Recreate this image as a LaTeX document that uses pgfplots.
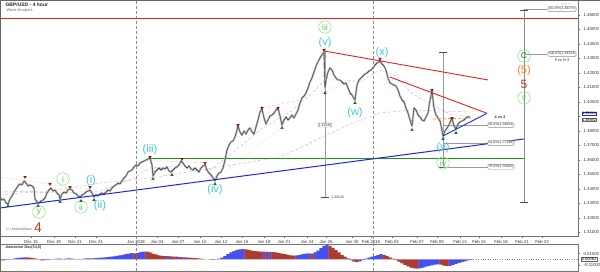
\documentclass[border=0pt]{standalone}
\usepackage{fontspec}
\setmainfont{Liberation Sans}
\newfontfamily\sym{DejaVu Sans}
\usepackage{pgfplots}
\usepackage{pgfplotstable}
\pgfplotsset{compat=1.18}
\definecolor{wcyan}{RGB}{60,200,215}
\definecolor{wgreen}{RGB}{70,215,70}
\definecolor{wcircle}{RGB}{140,230,140}
\definecolor{wdkgreen}{RGB}{30,130,30}
\definecolor{worange}{RGB}{255,130,30}
\definecolor{wbrown}{RGB}{185,65,25}
\definecolor{wred}{RGB}{235,30,30}
\definecolor{wblue}{RGB}{30,40,220}
\definecolor{wgline}{RGB}{30,150,30}
\definecolor{oblue}{RGB}{70,80,240}
\definecolor{ored}{RGB}{170,60,50}
\definecolor{mred}{RGB}{140,20,20}
\definecolor{mgreen}{RGB}{20,110,20}
\pgfplotstableread{
x y
0 1.3345
2 1.3324
4 1.3331
6 1.3304
8 1.3297
10 1.3331
12 1.3352
14 1.3379
16 1.3400
18 1.3421
20 1.3435
22 1.3428
24 1.3455
26 1.3441
28 1.3421
30 1.3428
32 1.3421
34 1.3407
35 1.3331
37 1.3310
39 1.3304
41 1.3317
43 1.3324
45 1.3338
47 1.3372
49 1.3393
51 1.3407
53 1.3386
55 1.3393
57 1.3372
59 1.3359
60 1.3331
62 1.3366
64 1.3379
66 1.3372
68 1.3393
70 1.3400
72 1.3393
74 1.3372
76 1.3366
78 1.3352
80 1.3345
82 1.3359
84 1.3366
86 1.3379
88 1.3386
90 1.3393
92 1.3372
94 1.3345
96 1.3359
98 1.3352
100 1.3366
102 1.3372
104 1.3366
106 1.3379
108 1.3393
110 1.3386
112 1.3407
114 1.3421
116 1.3428
118 1.3441
120 1.3435
122 1.3455
124 1.3476
126 1.3490
128 1.3517
130 1.3524
132 1.3531
134 1.3552
136 1.3566
138 1.3559
140 1.3579
142 1.3586
144 1.3593
146 1.3600
148 1.3607
150 1.3614
152 1.3566
153 1.3490
155 1.3517
157 1.3531
159 1.3545
161 1.3531
163 1.3545
165 1.3538
167 1.3552
169 1.3524
171 1.3517
173 1.3531
175 1.3545
177 1.3552
179 1.3566
181 1.3593
183 1.3579
185 1.3559
187 1.3545
189 1.3559
191 1.3538
193 1.3531
195 1.3545
197 1.3531
199 1.3517
201 1.3545
203 1.3559
205 1.3566
207 1.3531
209 1.3510
211 1.3497
213 1.3476
215 1.3455
217 1.3490
219 1.3510
221 1.3517
223 1.3545
225 1.3600
227 1.3669
229 1.3704
231 1.3724
233 1.3731
235 1.3759
237 1.3807
238 1.3835
240 1.3793
242 1.3772
244 1.3800
246 1.3779
248 1.3807
250 1.3821
252 1.3793
254 1.3779
256 1.3828
258 1.3876
260 1.3931
262 1.3952
264 1.3890
266 1.3848
268 1.3876
270 1.3904
272 1.3910
274 1.3924
276 1.3945
278 1.3959
280 1.3904
282 1.3841
284 1.3876
286 1.3897
288 1.3876
290 1.3890
292 1.3910
294 1.3890
296 1.3917
298 1.3945
300 1.3993
302 1.4028
304 1.4041
306 1.4062
308 1.4097
310 1.4138
312 1.4166
314 1.4207
316 1.4248
318 1.4276
320 1.4304
322 1.4324
324 1.4345
325 1.4097
326 1.4152
328 1.4207
330 1.4235
332 1.4221
334 1.4186
336 1.4166
338 1.4152
340 1.4152
342 1.4138
344 1.4124
346 1.4131
348 1.4097
350 1.4062
352 1.4048
354 1.4021
355 1.4014
357 1.4117
359 1.4152
361 1.4166
363 1.4179
365 1.4193
367 1.4200
369 1.4214
371 1.4221
373 1.4235
375 1.4255
377 1.4269
379 1.4276
380 1.4283
382 1.4262
384 1.4248
386 1.4221
388 1.4166
390 1.4131
392 1.4124
394 1.4117
396 1.4110
398 1.4083
400 1.4041
402 1.4014
404 1.4000
406 1.3959
408 1.3924
410 1.3876
412 1.3835
414 1.3959
416 1.3945
418 1.3910
420 1.3897
422 1.3876
424 1.3869
426 1.3897
428 1.3924
430 1.4014
432 1.4076
434 1.3959
436 1.3910
438 1.3890
440 1.3869
442 1.3807
443 1.3766
445 1.3800
447 1.3821
449 1.3841
451 1.3876
452 1.3883
454 1.3835
456 1.3814
458 1.3848
460 1.3862
462 1.3869
464 1.3876
466 1.3890
468 1.3897
470 1.3897
}\price
\pgfplotstableread{
x y
25 1.3483
50 1.3435
70 1.3414
90 1.3414
150 1.3621
182 1.3607
205 1.3579
238 1.3841
262 1.3959
278 1.3959
324 1.4359
380 1.4297
432 1.4083
452 1.3890
}\highs
\pgfplotstableread{
x y
8 1.3283
38 1.3283
60 1.3310
81 1.3317
94 1.3324
153 1.3469
172 1.3497
215 1.3434
282 1.3821
325 1.4062
355 1.3993
412 1.3807
443 1.3745
456 1.3786
}\lows
\pgfplotstableread{
x y
6 -0.0010
9 -0.0005
12 0.0005
15 0.0015
18 0.0025
21 0.0030
24 0.0035
45 -0.0015
48 -0.0010
51 -0.0005
54 0.0005
57 0.0010
66 0.0010
69 0.0015
81 0.0005
84 0.0010
87 0.0015
93 0.0015
96 0.0020
99 0.0025
102 0.0030
105 0.0035
108 0.0040
111 0.0045
114 0.0050
117 0.0060
120 0.0070
123 0.0080
126 0.0090
129 0.0100
132 0.0110
138 0.0115
141 0.0125
144 0.0135
168 0.0055
177 0.0045
186 0.0035
216 -0.0005
219 0.0010
222 0.0030
225 0.0060
228 0.0090
231 0.0120
234 0.0145
237 0.0165
240 0.0175
243 0.0180
264 0.0135
270 0.0130
297 0.0070
300 0.0080
303 0.0090
306 0.0100
309 0.0105
315 0.0120
318 0.0155
321 0.0195
324 0.0235
327 0.0250
360 -0.0035
363 -0.0015
366 0.0010
369 0.0030
372 0.0045
375 0.0060
378 0.0075
381 0.0090
420 -0.0160
423 -0.0145
426 -0.0130
429 -0.0115
432 -0.0105
435 -0.0095
438 -0.0090
450 -0.0115
453 -0.0100
456 -0.0080
459 -0.0065
462 -0.0050
465 -0.0035
468 -0.0020
471 -0.0010
}\oscB
\pgfplotstableread{
x y
0 -0.0020
3 -0.0020
27 0.0035
30 0.0030
33 0.0020
36 0.0010
39 -0.0005
42 -0.0020
60 0.0010
63 0.0005
72 0.0010
75 0.0005
78 0.0005
90 0.0015
135 0.0105
147 0.0135
150 0.0120
153 0.0100
156 0.0085
159 0.0070
162 0.0060
165 0.0055
171 0.0050
174 0.0045
180 0.0040
183 0.0035
189 0.0030
192 0.0025
195 0.0020
198 0.0015
201 0.0010
204 0.0005
207 0.0000
210 -0.0005
213 -0.0010
246 0.0175
249 0.0165
252 0.0155
255 0.0145
258 0.0140
261 0.0135
267 0.0130
273 0.0125
276 0.0120
279 0.0110
282 0.0100
285 0.0090
288 0.0080
291 0.0070
294 0.0065
312 0.0100
330 0.0235
333 0.0200
336 0.0160
339 0.0120
342 0.0080
345 0.0045
348 0.0015
351 -0.0015
354 -0.0040
357 -0.0050
384 0.0080
387 0.0060
390 0.0035
393 0.0010
396 -0.0015
399 -0.0040
402 -0.0070
405 -0.0100
408 -0.0125
411 -0.0145
414 -0.0160
417 -0.0165
441 -0.0095
444 -0.0110
447 -0.0120
}\oscR
\begin{document}
\begin{tikzpicture}[x=1pt,y=1pt]
\path[use as bounding box] (0,0) rectangle (600,272);
\begin{axis}[at={(0pt,36pt)}, anchor=south west, scale only axis,
  width=578pt, height=236pt, xmin=0, xmax=578, ymin=1.30759, ymax=1.47035,
  clip=false, axis line style={black!55, line width=0.4pt},
  scaled y ticks=false, scaled x ticks=false,
  ytick={1.31,1.32,1.33,1.34,1.35,1.36,1.37,1.38,1.40,1.41,1.42,1.43,1.44,1.45,1.46},
  extra y ticks={1.39}, extra y tick labels={},
  ytick pos=right, yticklabel pos=right, xtick pos=bottom,
  tick align=outside, major tick length=2pt,
  tick style={black!60, line width=0.3pt},
  yticklabel style={font=\fontsize{4.3}{5}\selectfont, text=black!80, /pgf/number format/.cd, fixed, fixed zerofill, precision=5, assume math mode=true},
  xtick={31,54,75,96,136,157,178,200,221,242,264,284,307,326,352,371,392,417,437,460,479,501,522,542},
  xticklabels={Dec 15,Dec 19,Dec 21,Dec 24,Jan 2018,Jan 04,Jan 07,Jan 10,Jan 12,Jan 16,Jan 18,Jan 21,Jan 24,Jan 26,Jan 30,Feb 2018,Feb 04,Feb 07,Feb 09,Feb 13,Feb 15,Feb 18,Feb 21,Feb 23},
  xticklabel style={font=\fontsize{4.3}{5}\selectfont, text=black!80, yshift=0.8pt},
]
% month separators
\addplot[black!45, densely dashed, line width=0.35pt] coordinates {(136.5,1.30210) (136.5,1.47035)};
\addplot[black!45, densely dashed, line width=0.35pt] coordinates {(373.5,1.30210) (373.5,1.47035)};
% moving averages / channel helpers
\addplot[violet!35, densely dashed, line width=0.4pt] coordinates {(0,1.3379)(50,1.3386)(100,1.3441)(150,1.3476)(200,1.3531)(250,1.3586)(280,1.3621)(300,1.3683)(320,1.3752)(350,1.3848)(380,1.3924)(410,1.3945)(440,1.3938)(470,1.3931)};
\addplot[blue!30, densely dashed, line width=0.4pt] coordinates {(0,1.3359)(30,1.3379)(60,1.3372)(100,1.3386)(130,1.3462)(150,1.3545)(180,1.3559)(210,1.3531)(230,1.3635)(260,1.3807)(290,1.3931)(310,1.4048)(325,1.4152)(345,1.4152)(360,1.4138)(380,1.4221)(395,1.4186)(410,1.4069)(430,1.3986)(450,1.3917)(470,1.3897)};
\addplot[orange!45, densely dashed, line width=0.4pt] coordinates {(0,1.3483)(90,1.3393)};
\addplot[orange!45, densely dashed, line width=0.4pt] coordinates {(140,1.3600)(210,1.3579)};
\addplot[brown!40!yellow!50, densely dashed, line width=0.4pt] coordinates {(225,1.3517)(282,1.3828)};
\addplot[orange!45, densely dashed, line width=0.4pt] coordinates {(262,1.3959)(300,1.4014)};
\addplot[brown!40!yellow!50, densely dashed, line width=0.4pt] coordinates {(325,1.4069)(355,1.4152)};
% horizontal lines
\addplot[wred, line width=0.9pt] coordinates {(0,1.4577)(578,1.4577)};
\addplot[wgline, line width=0.8pt] coordinates {(150,1.3614)(524,1.3614)};
% vertical measurement lines
\addplot[black!40, line width=0.6pt] coordinates {(325,1.4352)(325,1.3345)};
\addplot[black!40, line width=0.6pt] coordinates {(443,1.4345)(443,1.3552)};
\addplot[black!45, line width=0.6pt] coordinates {(524,1.4635)(524,1.3311)};
\addplot[black!70, line width=0.6pt] coordinates {(321,1.3345)(329,1.3345)};
\addplot[black!70, line width=0.6pt] coordinates {(439,1.4345)(447,1.4345)};
\addplot[black!70, line width=0.6pt] coordinates {(439,1.3552)(447,1.3552)};
\addplot[black!70, line width=0.6pt] coordinates {(520,1.4635)(528,1.4635)};
\addplot[black!70, line width=0.6pt] coordinates {(520,1.3311)(528,1.3311)};
% fib lines
\addplot[black!40, line width=0.5pt] coordinates {(524,1.4641)(547,1.4641)};
\addplot[black!40, line width=0.5pt] coordinates {(524,1.4331)(547,1.4331)};
\addplot[black!40, line width=0.5pt] coordinates {(443,1.3841)(488,1.3841)};
\addplot[black!40, line width=0.5pt] coordinates {(443,1.3717)(488,1.3717)};
\addplot[black!40, line width=0.5pt] coordinates {(443,1.3552)(488,1.3552)};
% price
\addplot[black!30, line width=1.9pt, line join=round] table[x=x,y=y] {\price};
\addplot[black!80, line width=0.4pt] table[x=x,y=y] {\price};
% trend lines
\addplot[wblue, line width=1.0pt] coordinates {(0,1.3269)(524,1.3745)};
\addplot[wblue, line width=0.9pt] coordinates {(443,1.3766)(487,1.3922)};
\addplot[wred, line width=0.9pt] coordinates {(324,1.4352)(488,1.4152)};
\addplot[wred, line width=0.9pt] coordinates {(390,1.4172)(487,1.3922)};
\addplot[worange, densely dashed, line width=0.7pt] coordinates {(433,1.3883)(473,1.3890)};
% swing markers
\addplot[only marks, mark=triangle*, mark size=1.5pt, mark options={rotate=180, fill=mred, draw=mred}] table[x=x,y=y] {\highs};
\addplot[only marks, mark=triangle*, mark size=1.5pt, mark options={fill=mgreen, draw=mgreen}] table[x=x,y=y] {\lows};
% texts
\node[anchor=west, font=\bfseries\fontsize{5}{6}\selectfont, text=black!85] at (axis cs:2,1.4669) {GBP/USD - 4 hour};
\node[anchor=west, font=\fontsize{4}{5}\selectfont, text=black!60] at (axis cs:3,1.4628) {Wave Analysis};
\node[anchor=west, font=\fontsize{3.6}{4}\selectfont, text=black!60] at (axis cs:2,1.3124) {{\sym ◇◇} MotiveWave};
\node[font=\fontsize{4}{5}\selectfont, text=black!45] at (axis cs:566,1.4672) {\sym ☆☆☆};
\tikzset{cy/.style={text=wcyan, font=\fontsize{11}{11}\selectfont, inner sep=0pt},
  cg/.style={circle, draw=wcircle, line width=0.6pt, text=wgreen, font=\fontsize{8.5}{9}\selectfont, inner sep=0pt, minimum size=12.5pt},
  fb/.style={draw=black!45, fill=white, rounded corners=1pt, inner sep=0.7pt, font=\fontsize{3.5}{4}\selectfont, text=black!80}}
\node[cg] at (axis cs:325,1.4517) {iii};
\node[cy] at (axis cs:325,1.4407) {(v)};
\node[cy] at (axis cs:382,1.4338) {(x)};
\node[cy] at (axis cs:355,1.3924) {(w)};
\node[cy] at (axis cs:150,1.3669) {(iii)};
\node[cy] at (axis cs:215,1.3393) {(iv)};
\node[cg] at (axis cs:63,1.3469) {i};
\node[cy] at (axis cs:91,1.3455) {(i)};
\node[cg] at (axis cs:81,1.3276) {ii};
\node[cy] at (axis cs:100,1.3283) {(ii)};
\node[cg] at (axis cs:39,1.3241) {y};
\node[text=wbrown, font=\fontsize{14}{14}\selectfont] at (axis cs:38,1.3131) {4};
\node[cy] at (axis cs:443,1.3683) {(v)};
\node[cg] at (axis cs:443,1.3579) {iv};
\node[cg, text=wdkgreen] at (axis cs:524,1.4317) {C};
\node[text=worange, font=\fontsize{11}{11}\selectfont] at (axis cs:524,1.4214) {(5)};
\node[text=wbrown, font=\fontsize{12}{12}\selectfont] at (axis cs:524,1.4124) {5};
\node[cg] at (axis cs:524,1.4028) {v};
\node[fb] at (axis cs:562,1.4641) {161.8\%(1.46375)};
\node[fb] at (axis cs:562,1.4331) {100.0\%(1.43224)};
\node[font=\fontsize{3.8}{4}\selectfont, text=black!85] at (axis cs:562,1.4290) {5 vs 5+3};
\node[fb] at (axis cs:501,1.3841) {50.0\%(1.38093)};
\node[fb] at (axis cs:501,1.3717) {61.8\%(1.37198)};
\node[fb] at (axis cs:501,1.3552) {78.6\%(1.35465)};
\node[font=\bfseries\fontsize{3.8}{4}\selectfont, text=black!85] at (axis cs:500,1.3893) {4 vs 3};
\node[fb] at (axis cs:325,1.3841) {1.10142};
\node[anchor=west, font=\fontsize{3.5}{4}\selectfont, text=black!75] at (axis cs:328,1.3345) {1.30016};
\node[draw=wblue, fill=white, inner sep=0.4pt, font=\fontsize{3.8}{4.5}\selectfont] at (axis cs:589,1.3920) {1.39044};
\node[draw=black!60, fill=white, inner sep=0.4pt, font=\fontsize{3.8}{4.5}\selectfont] at (axis cs:589,1.3877) {1.38982};
\end{axis}
\begin{axis}[at={(0pt,1pt)}, anchor=south west, scale only axis,
  width=578pt, height=27pt, xmin=0, xmax=578, ymin=-0.02063, ymax=0.02698,
  clip=false, axis line style={black!55, line width=0.4pt},
  scaled y ticks=false, xtick=\empty, ytick={-0.01,0.01},
  ytick pos=right, yticklabel pos=right, tick align=outside, major tick length=2pt,
  tick style={black!60, line width=0.3pt},
  yticklabel style={font=\fontsize{4.3}{5}\selectfont, text=black!80, /pgf/number format/.cd, fixed, fixed zerofill, precision=5, assume math mode=true},
]
\addplot[black!45, densely dashed, line width=0.35pt] coordinates {(136.5,-0.02063) (136.5,0.02698)};
\addplot[black!45, densely dashed, line width=0.35pt] coordinates {(373.5,-0.02063) (373.5,0.02698)};
\addplot[ybar, bar width=3.1pt, bar shift=0pt, fill=oblue, draw=none] table[x=x,y=y] {\oscB};
\addplot[ybar, bar width=3.1pt, bar shift=0pt, fill=ored, draw=none] table[x=x,y=y] {\oscR};
\addplot[black!50, dotted, line width=0.4pt] coordinates {(471,0)(578,0)};
\node[anchor=west, font=\bfseries\fontsize{3.8}{4}\selectfont, text=black!80] at (axis cs:2,0.0215) {Awesome Osc(34,5)};
\node[draw=black!60, fill=white, inner sep=0.6pt, font=\fontsize{4}{5}\selectfont] at (axis cs:589,0) {0.00062};
\end{axis}
\draw[black!60, line width=0.4pt] (0.2,0.2) rectangle (599.8,271.8);
\end{tikzpicture}
\end{document}
